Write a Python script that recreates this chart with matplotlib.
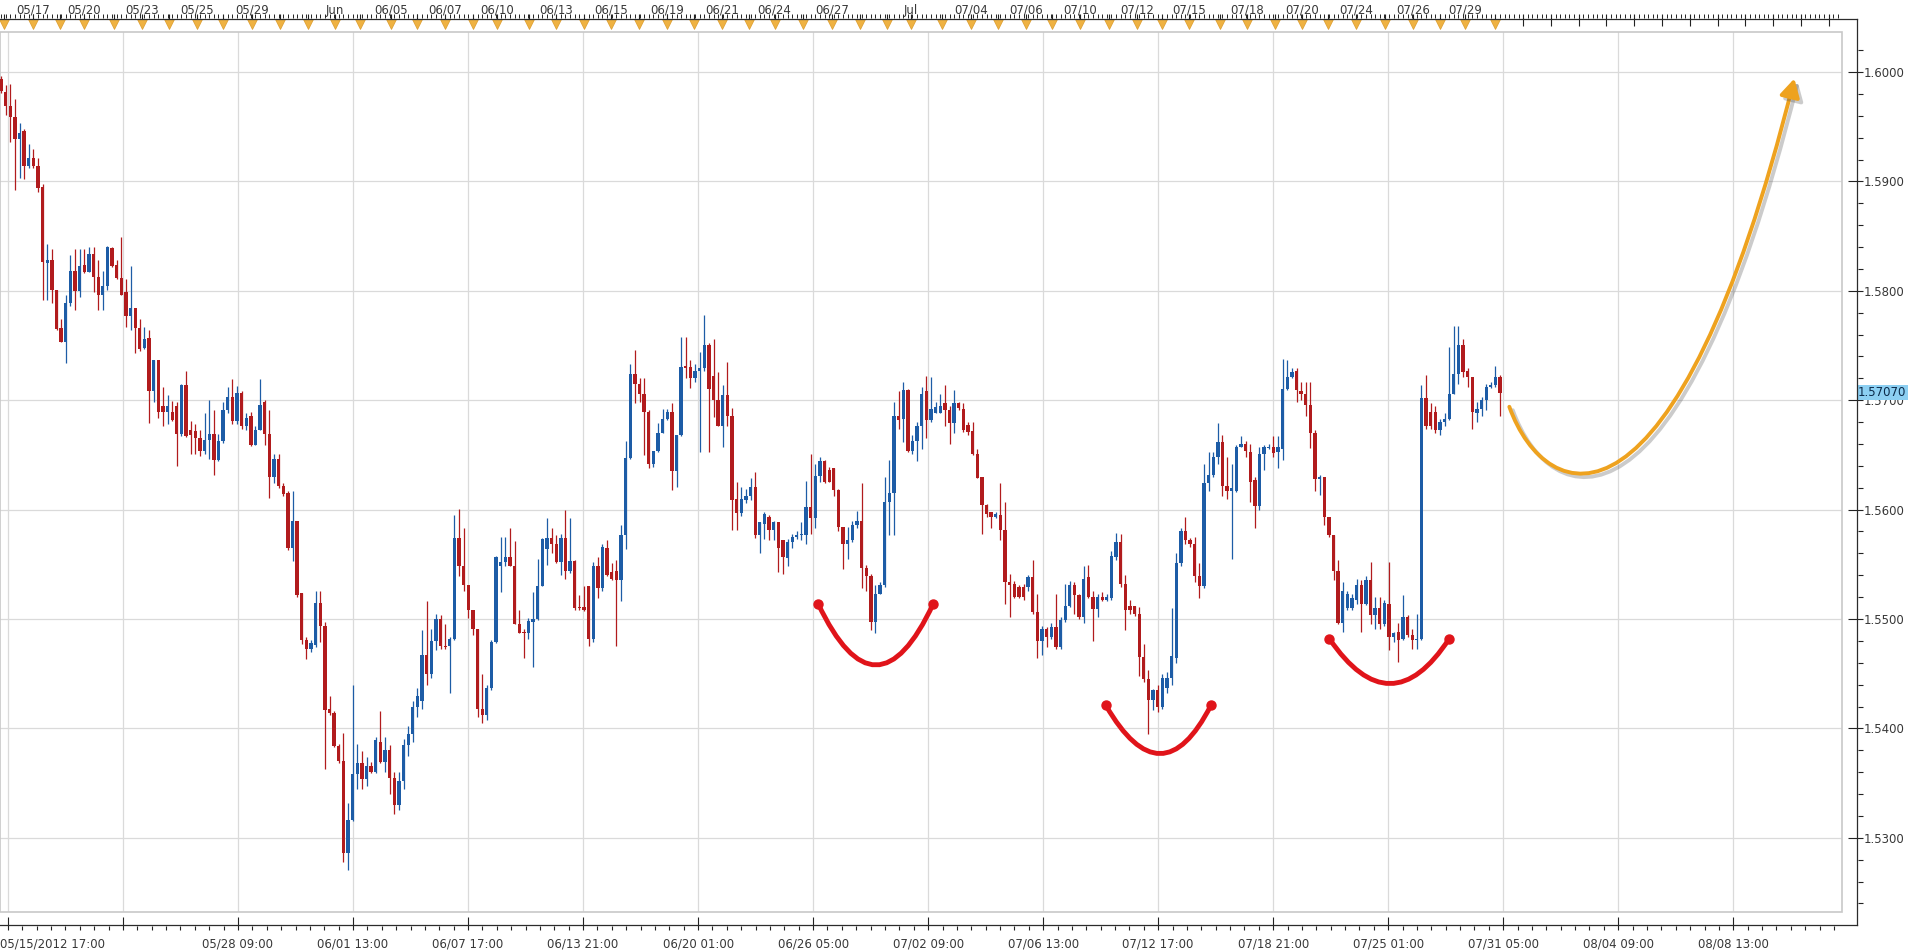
import numpy as np
import matplotlib
matplotlib.use("Agg")
import matplotlib.pyplot as plt
from matplotlib.path import Path
from matplotlib.patches import FancyArrowPatch, PathPatch, Rectangle
from matplotlib.lines import Line2D
from matplotlib.ticker import FixedLocator, MultipleLocator, FormatStrFormatter
import matplotlib.patheffects as pe
import matplotlib.transforms as mtrans

# 4h candles, prices in 1/10000
opens = [15994, 15982, 15969, 15959, 15939, 15946, 15914, 15921, 15914, 15895,
         15825, 15828, 15801, 15766, 15753, 15789, 15818, 15800, 15824, 15817,
         15834, 15813, 15796, 15804, 15839, 15824, 15812, 15799, 15777, 15784,
         15766, 15748, 15757, 15708, 15737, 15695, 15689, 15689, 15695, 15669,
         15714, 15673, 15672, 15665, 15654, 15664, 15669, 15645, 15663, 15691,
         15703, 15681, 15707, 15676, 15686, 15659, 15673, 15698, 15669, 15630,
         15646, 15622, 15615, 15565, 15590, 15524, 15481, 15473, 15476, 15515,
         15494, 15418, 15414, 15384, 15370, 15286, 15316, 15358, 15368, 15354,
         15366, 15360, 15388, 15369, 15380, 15355, 15330, 15352, 15385, 15395,
         15420, 15425, 15467, 15450, 15480, 15500, 15475, 15475, 15482, 15574,
         15548, 15531, 15508, 15491, 15418, 15412, 15437, 15479, 15548, 15552,
         15557, 15548, 15495, 15488, 15487, 15497, 15500, 15530, 15564, 15574,
         15569, 15552, 15574, 15544, 15553, 15511, 15511, 15530, 15482, 15548,
         15528, 15565, 15543, 15544, 15536, 15577, 15647, 15724, 15715, 15706,
         15689, 15642, 15654, 15670, 15683, 15689, 15635, 15668, 15731, 15730,
         15720, 15727, 15729, 15750, 15722, 15700, 15676, 15705, 15686, 15610,
         15597, 15609, 15612, 15621, 15577, 15587, 15593, 15581, 15589, 15572,
         15556, 15570, 15575, 15577, 15577, 15602, 15592, 15631, 15644, 15636,
         15638, 15618, 15584, 15569, 15572, 15586, 15590, 15547, 15539, 15497,
         15523, 15531, 15607, 15615, 15686, 15683, 15709, 15654, 15663, 15676,
         15708, 15682, 15688, 15688, 15697, 15691, 15679, 15697, 15692, 15677,
         15672, 15651, 15630, 15604, 15598, 15593, 15595, 15581, 15534, 15532,
         15529, 15529, 15529, 15538, 15506, 15480, 15491, 15484, 15493, 15474,
         15499, 15512, 15531, 15522, 15502, 15538, 15520, 15509, 15520, 15517,
         15519, 15557, 15570, 15532, 15512, 15512, 15505, 15465, 15445, 15426,
         15435, 15420, 15437, 15446, 15464, 15551, 15580, 15572, 15569, 15539,
         15530, 15624, 15632, 15648, 15662, 15622, 15617, 15617, 15657, 15660,
         15653, 15627, 15603, 15651, 15656, 15657, 15653, 15655, 15710, 15721,
         15727, 15708, 15706, 15696, 15670, 15628, 15630, 15593, 15577, 15544,
         15496, 15510, 15510, 15517, 15531, 15514, 15536, 15504, 15510, 15495,
         15514, 15484, 15488, 15482, 15502, 15485, 15481, 15482, 15702, 15689,
         15689, 15673, 15680, 15683, 15706, 15724, 15750, 15727, 15721, 15688,
         15692, 15700, 15712, 15714, 15721]

highs = [15996, 15988, 15989, 15975, 15953, 15948, 15934, 15930, 15921, 15898,
         15843, 15838, 15801, 15774, 15796, 15833, 15838, 15838, 15838, 15840,
         15840, 15828, 15818, 15841, 15840, 15828, 15849, 15811, 15823, 15784,
         15774, 15767, 15764, 15737, 15737, 15712, 15705, 15699, 15698, 15715,
         15727, 15681, 15678, 15673, 15688, 15700, 15691, 15669, 15698, 15712,
         15719, 15713, 15708, 15688, 15689, 15676, 15719, 15700, 15691, 15651,
         15651, 15624, 15617, 15617, 15590, 15524, 15484, 15481, 15526, 15526,
         15497, 15430, 15416, 15386, 15396, 15332, 15440, 15386, 15379, 15374,
         15369, 15392, 15416, 15392, 15385, 15360, 15360, 15390, 15402, 15425,
         15437, 15490, 15516, 15491, 15505, 15504, 15495, 15484, 15595, 15601,
         15583, 15531, 15508, 15491, 15450, 15440, 15481, 15558, 15575, 15575,
         15583, 15571, 15508, 15491, 15501, 15525, 15555, 15574, 15592, 15583,
         15577, 15578, 15600, 15592, 15554, 15522, 15530, 15530, 15552, 15557,
         15569, 15572, 15551, 15554, 15586, 15663, 15733, 15746, 15720, 15720,
         15691, 15654, 15679, 15692, 15692, 15697, 15668, 15758, 15758, 15737,
         15733, 15744, 15778, 15752, 15756, 15726, 15714, 15735, 15693, 15625,
         15621, 15619, 15629, 15634, 15589, 15598, 15595, 15590, 15589, 15572,
         15573, 15578, 15580, 15589, 15626, 15651, 15642, 15648, 15645, 15639,
         15638, 15619, 15584, 15584, 15590, 15599, 15624, 15549, 15541, 15531,
         15534, 15630, 15645, 15698, 15708, 15717, 15710, 15668, 15680, 15712,
         15722, 15721, 15698, 15706, 15714, 15695, 15709, 15698, 15697, 15680,
         15680, 15655, 15630, 15605, 15598, 15598, 15624, 15607, 15541, 15535,
         15531, 15532, 15540, 15554, 15523, 15494, 15493, 15496, 15523, 15502,
         15532, 15535, 15534, 15523, 15548, 15549, 15526, 15523, 15525, 15523,
         15562, 15579, 15578, 15540, 15517, 15512, 15511, 15477, 15453, 15436,
         15440, 15450, 15452, 15510, 15560, 15583, 15593, 15574, 15575, 15551,
         15642, 15653, 15653, 15679, 15668, 15648, 15642, 15659, 15667, 15663,
         15660, 15630, 15657, 15659, 15660, 15667, 15667, 15738, 15737, 15729,
         15729, 15717, 15717, 15717, 15673, 15632, 15630, 15593, 15577, 15554,
         15534, 15526, 15523, 15537, 15536, 15539, 15552, 15520, 15520, 15517,
         15552, 15488, 15496, 15522, 15504, 15491, 15505, 15714, 15723, 15697,
         15695, 15683, 15688, 15749, 15768, 15768, 15756, 15729, 15721, 15698,
         15703, 15715, 15717, 15731, 15723]

lows = [15981, 15961, 15936, 15892, 15903, 15902, 15912, 15912, 15890, 15792,
        15792, 15789, 15764, 15753, 15734, 15786, 15782, 15794, 15816, 15817,
        15799, 15782, 15782, 15801, 15822, 15811, 15796, 15767, 15764, 15743,
        15745, 15747, 15679, 15698, 15684, 15676, 15678, 15681, 15640, 15667,
        15666, 15651, 15651, 15649, 15651, 15646, 15632, 15644, 15661, 15688,
        15678, 15678, 15674, 15673, 15658, 15659, 15673, 15659, 15611, 15624,
        15620, 15612, 15563, 15553, 15520, 15477, 15463, 15470, 15474, 15479,
        15363, 15412, 15383, 15368, 15278, 15271, 15315, 15345, 15345, 15347,
        15359, 15359, 15368, 15360, 15340, 15322, 15325, 15345, 15375, 15388,
        15410, 15418, 15440, 15446, 15472, 15473, 15473, 15432, 15481, 15539,
        15526, 15501, 15485, 15410, 15405, 15408, 15435, 15478, 15525, 15548,
        15548, 15495, 15487, 15464, 15482, 15456, 15499, 15530, 15549, 15560,
        15551, 15540, 15537, 15542, 15508, 15508, 15507, 15475, 15479, 15519,
        15526, 15539, 15536, 15475, 15516, 15564, 15646, 15697, 15698, 15650,
        15638, 15639, 15653, 15670, 15682, 15618, 15621, 15667, 15720, 15711,
        15717, 15653, 15727, 15653, 15685, 15676, 15657, 15676, 15581, 15581,
        15594, 15606, 15609, 15574, 15560, 15573, 15572, 15572, 15543, 15541,
        15548, 15565, 15573, 15572, 15569, 15578, 15583, 15625, 15624, 15625,
        15612, 15580, 15546, 15555, 15570, 15583, 15528, 15526, 15490, 15487,
        15523, 15529, 15577, 15577, 15674, 15662, 15653, 15651, 15644, 15655,
        15665, 15680, 15688, 15688, 15676, 15660, 15670, 15691, 15671, 15668,
        15650, 15629, 15578, 15593, 15583, 15592, 15572, 15514, 15502, 15519,
        15519, 15517, 15526, 15505, 15464, 15467, 15474, 15482, 15473, 15473,
        15497, 15511, 15505, 15500, 15496, 15519, 15480, 15502, 15516, 15516,
        15517, 15554, 15529, 15490, 15505, 15503, 15448, 15442, 15395, 15417,
        15415, 15418, 15432, 15440, 15460, 15548, 15569, 15566, 15534, 15519,
        15528, 15617, 15630, 15642, 15612, 15610, 15555, 15616, 15657, 15648,
        15607, 15583, 15600, 15636, 15655, 15648, 15638, 15645, 15709, 15720,
        15698, 15700, 15686, 15656, 15617, 15613, 15586, 15575, 15536, 15495,
        15488, 15508, 15508, 15514, 15488, 15513, 15495, 15491, 15491, 15494,
        15472, 15479, 15461, 15481, 15484, 15473, 15473, 15481, 15674, 15674,
        15670, 15668, 15676, 15682, 15706, 15715, 15721, 15712, 15674, 15680,
        15686, 15691, 15711, 15712, 15686]

closes = [15983, 15969, 15959, 15939, 15944, 15914, 15921, 15914, 15894, 15826,
          15828, 15801, 15765, 15753, 15789, 15818, 15800, 15823, 15817, 15834,
          15813, 15796, 15804, 15840, 15823, 15812, 15796, 15777, 15784, 15766,
          15747, 15756, 15708, 15737, 15689, 15689, 15695, 15682, 15669, 15714,
          15667, 15668, 15665, 15654, 15664, 15669, 15645, 15663, 15691, 15703,
          15681, 15707, 15676, 15684, 15659, 15673, 15696, 15669, 15630, 15646,
          15622, 15614, 15565, 15590, 15522, 15481, 15473, 15478, 15515, 15494,
          15417, 15414, 15384, 15370, 15286, 15316, 15358, 15368, 15354, 15366,
          15360, 15389, 15369, 15380, 15355, 15330, 15352, 15385, 15395, 15420,
          15430, 15467, 15450, 15480, 15500, 15475, 15474, 15482, 15574, 15548,
          15531, 15508, 15491, 15418, 15412, 15437, 15479, 15557, 15552, 15557,
          15548, 15495, 15487, 15487, 15498, 15500, 15530, 15573, 15574, 15569,
          15552, 15574, 15544, 15553, 15510, 15510, 15508, 15482, 15548, 15528,
          15566, 15540, 15537, 15536, 15577, 15647, 15724, 15715, 15706, 15689,
          15642, 15654, 15670, 15683, 15689, 15635, 15668, 15730, 15729, 15720,
          15727, 15729, 15750, 15710, 15700, 15676, 15705, 15686, 15609, 15597,
          15610, 15612, 15621, 15577, 15589, 15596, 15581, 15589, 15565, 15557,
          15570, 15575, 15577, 15578, 15602, 15592, 15631, 15644, 15625, 15625,
          15618, 15584, 15569, 15572, 15586, 15590, 15547, 15539, 15497, 15523,
          15531, 15607, 15615, 15686, 15682, 15709, 15654, 15663, 15676, 15706,
          15682, 15692, 15694, 15695, 15691, 15679, 15697, 15693, 15673, 15671,
          15651, 15629, 15604, 15596, 15593, 15596, 15581, 15534, 15531, 15520,
          15520, 15520, 15538, 15506, 15480, 15491, 15484, 15493, 15474, 15499,
          15512, 15531, 15522, 15502, 15537, 15520, 15509, 15520, 15517, 15520,
          15558, 15570, 15532, 15508, 15508, 15505, 15465, 15445, 15426, 15435,
          15420, 15446, 15446, 15466, 15551, 15580, 15572, 15569, 15539, 15530,
          15624, 15632, 15648, 15662, 15622, 15617, 15620, 15657, 15660, 15654,
          15625, 15603, 15651, 15657, 15657, 15652, 15657, 15710, 15721, 15726,
          15709, 15706, 15696, 15670, 15628, 15630, 15593, 15577, 15544, 15496,
          15526, 15523, 15519, 15531, 15514, 15536, 15504, 15510, 15495, 15515,
          15484, 15487, 15481, 15502, 15485, 15481, 15482, 15702, 15676, 15676,
          15673, 15680, 15683, 15706, 15724, 15750, 15726, 15721, 15689, 15692,
          15700, 15712, 15714, 15721, 15707]

last_price = 1.57070

# bottom time axis, one label every ~25 candles
bottom_labels = ['05/15/2012 17:00', '', '05/28 09:00', '06/01 13:00', '06/07 17:00',
                 '06/13 21:00', '06/20 01:00', '06/26 05:00', '07/02 09:00',
                 '07/06 13:00', '07/12 17:00', '07/18 21:00', '07/25 01:00',
                 '07/31 05:00', '08/04 09:00', '08/08 13:00']

# top calendar ruler (candle index where each day starts)
day_pos = [0.6, 6.9, 12.8, 17.9, 24.4, 30.5, 36.3, 42.4, 48.0, 54.3, 60.3, 66.4,
           72.2, 77.6, 84.3, 89.9, 96.0, 102.0, 107.2, 114.1, 120.0, 126.0, 131.9,
           137.9, 143.9, 149.8, 155.8, 161.7, 167.2, 173.4, 179.6, 185.6, 191.5,
           196.7, 203.4, 209.6, 215.5, 221.5, 227.2, 233.2, 239.5, 245.6, 251.0,
           256.8, 263.4, 269.4, 275.4, 281.2, 286.7, 292.9, 299.2, 305.2, 311.1,
           316.5, 323.0]
day_labels = ['', '05/17', '', '05/20', '', '05/23', '', '05/25', '', '05/29', '', '',
              'Jun', '', '06/05', '', '06/07', '', '06/10', '', '06/13', '', '06/15',
              '', '06/19', '', '06/21', '', '06/24', '', '06/27', '', '',
              'Jul', '', '07/04', '', '07/06', '', '07/10', '', '07/12', '',
              '07/15', '', '07/18', '', '07/20', '', '07/24', '', '07/26', '',
              '07/29', '']

# hand drawn bowls (candle index, price): left dot, lowest point, right dot
bowl_left = [(176.6, 1.5514), (238.8, 1.5421), (287.1, 1.5482)]
bowl_low = [(189.1, 1.5458), (250.5, 1.5377), (300.2, 1.5441)]
bowl_right = [(201.5, 1.5514), (261.5, 1.5421), (313.0, 1.5482)]

# hand drawn forecast swoosh (bezier points)
swoosh = [(326.0, 1.5694), (334.0, 1.5600), (362.0, 1.5560), (387.6, 1.5994)]

RED = '#b11b1d'
BLUE = '#1d5ca6'
TXT = '#383838'
FS = 8.5

W, H = 1914, 950
fig = plt.figure(figsize=(W / 100, H / 100), dpi=100)
fig.patch.set_facecolor('white')


def fx(px):
    return px / W


def fy(py):
    return 1 - py / H


ax = fig.add_axes([0, fy(912), fx(1842), (912 - 32) / H])

o = np.array(opens) / 1e4
hi = np.array(highs) / 1e4
lo = np.array(lows) / 1e4
c = np.array(closes) / 1e4
x = np.arange(len(o))
cols = np.where(c > o, BLUE, RED)

ax.vlines(x, lo, hi, colors=cols, lw=0.9, zorder=3)
ax.bar(x, np.maximum(np.abs(c - o), 0.00009), bottom=np.minimum(o, c),
       width=0.72, color=cols, lw=0, zorder=4)

ax.set_xlim(-0.22, 397.9)
ax.set_ylim(1.523218, 1.603656)

# bottom axis
xmaj = 1.5 + 24.86 * np.arange(len(bottom_labels))
ax.xaxis.set_major_locator(FixedLocator(xmaj))
ax.xaxis.set_minor_locator(FixedLocator(1.5 + 24.86 / 8 * np.arange(128)))
ax.set_xticklabels([''] + bottom_labels[1:])
ax.spines['bottom'].set_position(('outward', 13))
ax.tick_params(axis='x', which='both', direction='in', bottom=True, top=False,
               labelbottom=True, labeltop=False, colors='#222222',
               labelcolor=TXT, labelsize=FS)
ax.tick_params(axis='x', which='major', length=9.4, width=0.8, pad=5.5)
ax.tick_params(axis='x', which='minor', length=3, width=0.8)
ax.text(0.0, -32 / 880, bottom_labels[0], transform=ax.transAxes, ha='left',
        va='center', fontsize=FS, color=TXT, clip_on=False)

# right price axis
ax.yaxis.tick_right()
ax.yaxis.set_major_locator(MultipleLocator(0.01))
ax.yaxis.set_minor_locator(MultipleLocator(0.002))
ax.yaxis.set_major_formatter(FormatStrFormatter('%.4f'))
ax.spines['right'].set_position(('outward', 15))
ax.tick_params(axis='y', which='both', direction='in', left=False, right=True,
               labelleft=False, labelright=True, colors='#222222',
               labelcolor=TXT, labelsize=FS)
ax.tick_params(axis='y', which='major', length=10.8, width=0.8, pad=0.5)
ax.tick_params(axis='y', which='minor', length=3.5, width=0.8)

ax.grid(True, which='major', color='#dadada', lw=0.9)
ax.set_axisbelow(True)
for s in ax.spines.values():
    s.set_visible(False)
ax.add_patch(Rectangle((0, 0), 1, 1, transform=ax.transAxes, fill=False,
                       ec='#c8c8c8', lw=1.2, clip_on=False, zorder=1))

# top calendar ruler
axt = ax.twiny()
axt.set_xlim(ax.get_xlim())
future_days = list(np.arange(329, 398, 6))
axt.xaxis.set_major_locator(FixedLocator(day_pos + future_days))
axt.set_xticklabels(day_labels + [''] * len(future_days))
axt.xaxis.set_minor_locator(FixedLocator(np.arange(0, 398)))
axt.spines['top'].set_position(('outward', 13))
axt.tick_params(axis='x', which='both', direction='in', top=True, bottom=False,
                labeltop=True, labelbottom=False, colors='#222222',
                labelcolor=TXT, labelsize=FS)
axt.tick_params(axis='x', which='major', length=8.6, width=0.8, pad=-2)
axt.tick_params(axis='x', which='minor', length=3, width=0.7)
for s in axt.spines.values():
    s.set_visible(False)
axt.plot(day_pos, np.full(len(day_pos), 1 + 8 / 880),
         transform=axt.get_xaxis_transform(), ls='', marker='v', ms=7.5,
         color='#efb242', mec='#dc9c2c', mew=0.5, clip_on=False, zorder=6)

# ruler frame lines
line_kw = dict(color='#2b2b2b', lw=0.9)
fig.add_artist(Line2D([0, fx(1857)], [fy(19), fy(19)], **line_kw))
fig.add_artist(Line2D([0, fx(1857)], [fy(925), fy(925)], **line_kw))
fig.add_artist(Line2D([fx(1857), fx(1857)], [fy(19), fy(925)], **line_kw))

# red bowls
for s, m, e in zip(bowl_left, bowl_low, bowl_right):
    s, m, e = np.array(s), np.array(m), np.array(e)
    ctrl = 2 * m - (s + e) / 2
    bowl = Path([s, ctrl, e], [Path.MOVETO, Path.CURVE3, Path.CURVE3])
    ax.add_patch(PathPatch(bowl, fill=False, ec='#e0141a', lw=3.5,
                           capstyle='round', zorder=7))
    ax.plot([s[0], e[0]], [s[1], e[1]], 'o', ms=6.5, color='#e0141a', zorder=8)

# orange forecast arrow
arrow = FancyArrowPatch(path=Path(swoosh, [Path.MOVETO, Path.CURVE4, Path.CURVE4, Path.CURVE4]),
                        arrowstyle='-|>,head_length=0.9,head_width=0.5',
                        mutation_scale=12, color='#eea21f', lw=2.8, zorder=7,
                        path_effects=[pe.SimpleLineShadow(offset=(2.5, -2.5), shadow_color='#555555', alpha=0.3),
                                      pe.Normal()])
ax.add_patch(arrow)

# last price tag
trans = mtrans.blended_transform_factory(fig.transFigure, ax.transData)
ax.text(fx(1858), last_price, '%.5f' % last_price, transform=trans, ha='left',
        va='center', fontsize=FS, color='#0b2a4a', zorder=10, clip_on=False,
        bbox=dict(boxstyle='square,pad=0.12', fc='#8ccff2', ec='none'))

fig.savefig('out.png', dpi=100, facecolor='white')
